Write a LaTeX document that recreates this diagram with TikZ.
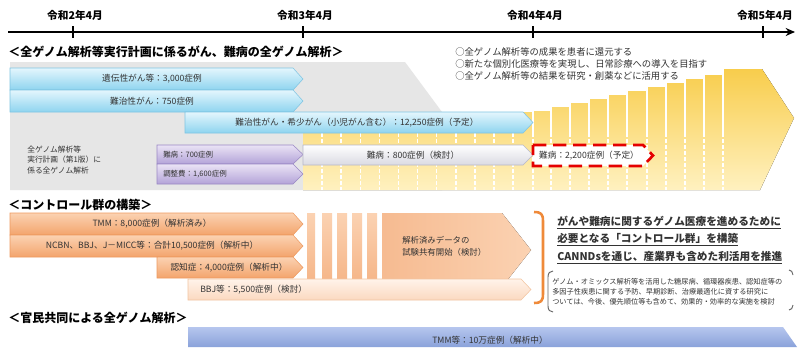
\documentclass[tikz,border=0pt]{standalone}
\usepackage{fontspec}
\setmainfont{Noto Sans CJK JP}
\usetikzlibrary{arrows.meta}
\definecolor{cyanT}{HTML}{E4F6FD}
\definecolor{cyanB}{HTML}{8ED4EF}
\definecolor{cyanD}{HTML}{7FC4E2}
\definecolor{purT}{HTML}{EAE3F5}
\definecolor{purB}{HTML}{B3A3D8}
\definecolor{purD}{HTML}{9A88C4}
\definecolor{gryT}{HTML}{FFFFFF}
\definecolor{gryB}{HTML}{DADAE2}
\definecolor{gryD}{HTML}{B8B8C8}
\definecolor{oraT}{HTML}{FBD2B2}
\definecolor{oraB}{HTML}{F3A46C}
\definecolor{oraD}{HTML}{EE9A60}
\definecolor{palT}{HTML}{FFF3EA}
\definecolor{palB}{HTML}{FBD9C0}
\definecolor{palD}{HTML}{F2C4A0}
\definecolor{bluT}{HTML}{B6C6EE}
\definecolor{bluB}{HTML}{8AA2DA}
\definecolor{yelT}{HTML}{F8CD4C}
\definecolor{yelB}{HTML}{FFF1C0}
\definecolor{bgGrey}{HTML}{E6E6E6}
\definecolor{txt}{HTML}{333333}
\definecolor{brk}{HTML}{EF8A3A}
\newcommand\garrow[5]{\path[#5] (#1,#3) -- ({#2-10},#3) -- (#2,{(#3+#4)/2}) -- ({#2-10},#4) -- (#1,#4) -- cycle;}
\tikzset{
  lbl/.style={inner sep=0, font=\fontsize{6.5}{7}\selectfont, text=txt},
  slbl/.style={inner sep=0, font=\fontsize{5.6}{6}\selectfont, text=txt, anchor=west},
  hdr/.style={inner sep=0, anchor=west, font=\fontsize{9}{10}\selectfont\bfseries},
  yearlbl/.style={inner sep=0, font=\fontsize{8}{9}\selectfont\bfseries},
  bullet/.style={inner sep=0, anchor=west, font=\fontsize{7}{8}\selectfont, text=txt},
  rtext/.style={inner sep=0, anchor=west, font=\fontsize{8}{9}\selectfont\bfseries, text=txt},
  tiny/.style={inner sep=0, anchor=west, font=\fontsize{5.4}{6}\selectfont, text=txt},
  cyanarr/.style={top color=cyanT, bottom color=cyanB, draw=cyanD, line width=0.4pt},
  purarr/.style={top color=purT, bottom color=purB, draw=purD, line width=0.4pt},
  gryarr/.style={top color=gryT, bottom color=gryB, draw=gryD, line width=0.4pt},
  oraarr/.style={top color=oraT, bottom color=oraB, draw=oraD, line width=0.4pt},
  palarr/.style={top color=palT, bottom color=palB, draw=palD, line width=0.4pt},
  redarr/.style={fill=white, draw=red!90!black, line width=2pt, dash pattern=on 10pt off 5pt},
  sep/.style={draw=white, line width=1.1pt},
}
\begin{document}
\begin{tikzpicture}[x=0.75pt,y=-0.75pt]
\useasboundingbox[fill=white] (0,0) rectangle (798,347);

% timeline
\coordinate (t0) at (8,32);
\coordinate (t1) at (795,32);
\draw[line width=1.3pt, -{Stealth[length=7pt,width=6pt]}] (t0) -- (t1);
\foreach \x/\yy in {73/2,303/3,533/4,763/5}{
  \draw[line width=1.3pt] (\x,26) -- (\x,38);
  \node[yearlbl] (yr\yy) at (\x+2,15) {令和\yy{}年4月};
}

% section 1 header and bullets
\node[hdr] (h1) at (8,52) {＜全ゲノム解析等実行計画に係るがん、難病の全ゲノム解析＞};
\node[bullet] (b1) at (455,52) {○全ゲノム解析等の成果を患者に還元する};
\node[bullet] (b2) at (455,64) {○新たな個別化医療等を実現し、日常診療への導入を目指す};
\node[bullet] (b3) at (455,76) {○全ゲノム解析等の結果を研究・創薬などに活用する};

% grey background
\fill[bgGrey] (10,62) -- (405,62) -- (442,112) -- (442,190) -- (10,190) -- cycle;

% yellow stepped arrow
\fill[top color=yelT, bottom color=yelB]
  (303,190) -- (303,112) -- (533,112) -- (533,111) -- (551,111) -- (551,107) -- (570,107) -- (570,103)
  -- (589,103) -- (589,99) -- (608,99) -- (608,95) -- (627,95) -- (627,91) -- (647,91) -- (647,87)
  -- (666,87) -- (666,83) -- (685,83) -- (685,79) -- (704,79) -- (704,75) -- (723,75) -- (723,69)
  -- (762,69) -- (794,118) -- (760,190) -- cycle;
\foreach \i in {1,...,11}{
  \draw[sep] ({303+19.1*\i},112) -- ({303+19.1*\i},133);
  \draw[sep, dash pattern=on 3pt off 1.5pt] ({303+19.1*\i},133) -- ({303+19.1*\i},190);
}
\foreach \x/\t in {533/111,551/107,570/103,589/99,608/95,627/91,647/87,666/83,685/79,704/75,723/69}{
  \draw[sep] (\x,\t) -- (\x,133);
  \draw[sep, dash pattern=on 3pt off 1.5pt] (\x,133) -- (\x,190);
}

% cyan arrows
\garrow{10}{303}{68}{90}{cyanarr}
\node[lbl] (a1) at (152,79) {遺伝性がん等：3,000症例};
\garrow{10}{303}{90}{112}{cyanarr}
\node[lbl] (a2) at (152,101) {難治性がん：750症例};
\garrow{185}{533}{112}{133}{cyanarr}
\node[lbl] (a3) at (357,123) {難治性がん・希少がん（小児がん含む）：12,250症例（予定）};

% left text
\node[slbl, align=left, font=\fontsize{5.8}{8.2}\selectfont] (lt) at (27,160) {全ゲノム解析等\\実行計画（第1版）に\\係る全ゲノム解析};

% purple arrows
\garrow{157}{303}{145}{164}{purarr}
\node[slbl] (p1) at (163,155) {難病：700症例};
\garrow{157}{303}{164}{184}{purarr}
\node[slbl] (p2) at (163,174) {調整費：1,600症例};

% grey arrow
\garrow{303}{533}{145}{165}{gryarr}
\node[lbl] (g1) at (413,155) {難病：800症例（検討）};

% red dashed arrow
\garrow{533}{653}{145}{166}{redarr}
\node[lbl] (r1) at (589,155.5) {難病：2,200症例（予定）};

% section 2
\node[hdr] (h2) at (8,205) {＜コントロール群の構築＞};
\foreach \a/\b in {307/315,322/332,337/347,352/362,367/377}{
  \fill[top color=oraT, bottom color=oraB!80!white] (\a,213) rectangle (\b,280);
}
\fill[left color=oraB!75!white, right color=oraT] (382,213) -- (502,213) -- (531,250) -- (502,287) -- (382,287) -- cycle;
\node[lbl, anchor=west, align=left, font=\fontsize{6.3}{9}\selectfont] (cs) at (402,246) {解析済みデータの\\試験共有開始（検討）};

\garrow{10}{303}{213}{235}{oraarr}
\node[lbl] (o1) at (152,224) {TMM：8,000症例（解析済み）};
\garrow{10}{303}{235}{257}{oraarr}
\node[lbl] (o2) at (152,246) {NCBN、BBJ、J－MICC等：合計10,500症例（解析中）};
\garrow{157}{303}{257}{278}{oraarr}
\node[lbl] (o3) at (229,268) {認知症：4,000症例（解析中）};
\garrow{188}{531}{279}{300}{palarr}
\node[lbl, anchor=west] (o4) at (200,290) {BBJ等：5,500症例（検討）};

% orange bracket
\coordinate (bk1) at (534,212);
\coordinate (bk2) at (534,303);
\draw[brk, line width=1.9pt] (bk1) .. controls (541,212) and (543,214) .. (543,221) -- (543,294) .. controls (543,301) and (541,303) .. (bk2);

% right texts
\node[rtext] (m1) at (557,223) {\underline{がんや難病に関するゲノム医療を進めるために}};
\node[rtext] (m2) at (557,240) {\underline{必要となる「コントロール群」を構築}};
\node[rtext] (m3) at (557,258) {\underline{CANNDsを通じ、産業界も含めた利活用を推進}};

% small bracketed text
\coordinate (sl1) at (553,271);
\coordinate (sl2) at (553,312);
\draw[black!60, line width=0.7pt] (sl1) .. controls (550,271) and (548,273) .. (548,277) -- (548,306) .. controls (548,310) and (550,312) .. (sl2);
\coordinate (sr1) at (789,270);
\coordinate (sr2) at (789,310);
\draw[black!60, line width=0.7pt] (sr1) .. controls (791,270) and (793,272) .. (793,275);
\draw[black!60, line width=0.7pt] (793,305) .. controls (793,308) and (791,310) .. (sr2);
\node[tiny] (s1) at (552,282) {ゲノム・オミックス解析等を活用した糖尿病、循環器疾患、認知症等の};
\node[tiny] (s2) at (552,292) {多因子性疾患に関する予防、早期診断、治療最適化に資する研究に};
\node[tiny] (s3) at (552,302) {ついては、今後、優先順位等も含めて、効果的・効率的な実施を検討};

% section 3
\node[hdr] (h3) at (8,318) {＜官民共同による全ゲノム解析＞};
\path[top color=bluT, bottom color=bluB] (188,327) -- (783,327) -- (797,347) -- (188,347) -- cycle;
\node[lbl, anchor=west] (bl) at (432,340) {TMM等：10万症例（解析中）};
\end{tikzpicture}
\end{document}
